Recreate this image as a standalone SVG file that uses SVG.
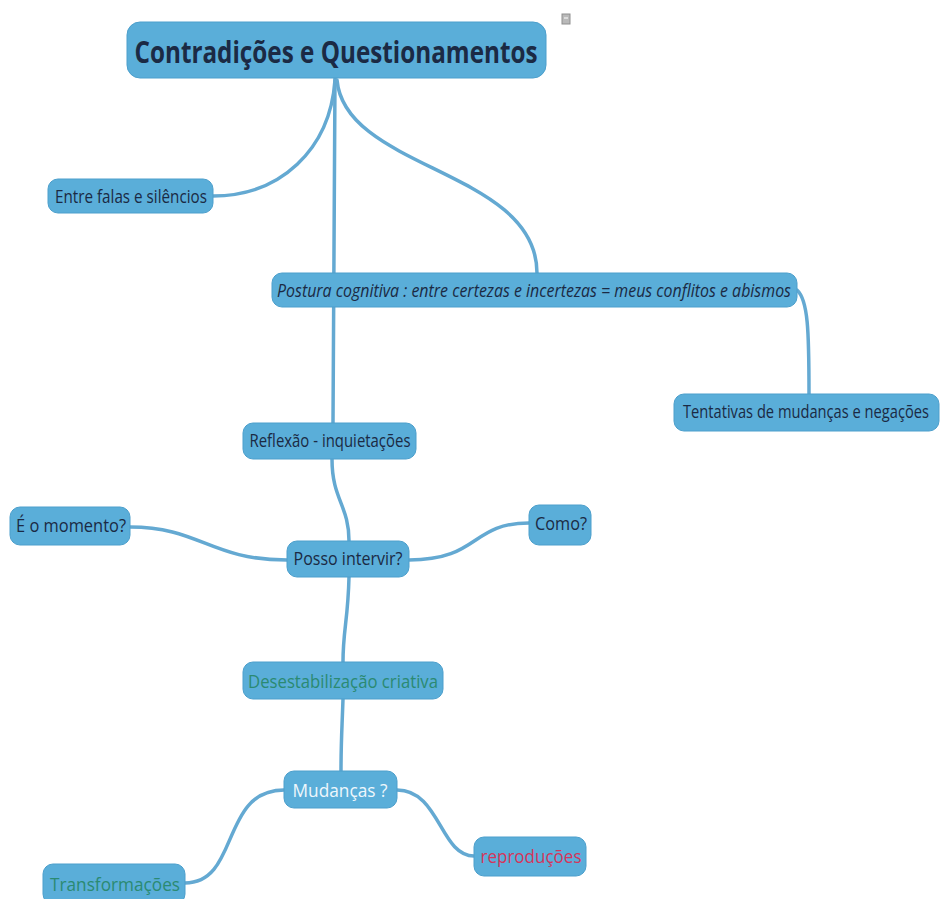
<svg xmlns="http://www.w3.org/2000/svg" width="944" height="899" viewBox="0 0 944 899">
  <style>
    .node rect { fill: #5aaed9; stroke: #4c9fcc; stroke-width: 1; }
    .node text { font-family: "Open Sans", "Liberation Sans", sans-serif; font-size: 19px; fill: #1b2a44; }
    .root text { font-size: 31px; font-weight: bold; }
    .links path { fill: none; stroke: #64a9d2; stroke-width: 3.5; stroke-linecap: round; }
    .teal { fill: #2b8a72 !important; }
    .light { fill: #eef7fc !important; }
    .red { fill: #d6345a !important; }
  </style>
  <rect width="944" height="899" fill="#ffffff"/>

  <g class="links">
    <!-- root to its children -->
    <path d="M335,78 L333,423"/>
    <path d="M335,80 C330,150 280,196 213,196"/>
    <path d="M337,80 C345,170 537,170 537,273"/>
    <!-- Postura to Tentativas -->
    <path d="M797,290 C808,300 809,330 809,394"/>
    <!-- Reflexão to Posso intervir -->
    <path d="M332,459 C332,500 349,505 349,541"/>
    <!-- Posso intervir to side questions -->
    <path d="M287,560 C210,560 200,527 130,527"/>
    <path d="M409,560 C480,560 470,523 529,523"/>
    <!-- chain down to Mudanças -->
    <path d="M349,577 C348,620 343,630 343,662"/>
    <path d="M343,699 C342,730 341,740 341,771"/>
    <!-- Mudanças to its children -->
    <path d="M284,790 C220,790 240,883 185,883"/>
    <path d="M397,790 C440,790 440,856 474,856"/>
  </g>

  <g id="root" class="node root">
    <rect x="127" y="22" width="419" height="56" rx="13"/>
    <text x="336" y="63" text-anchor="middle" textLength="403" lengthAdjust="spacingAndGlyphs">Contradições e Questionamentos</text>
  </g>
  <g id="note-icon">
    <rect x="562" y="14" width="8" height="10" fill="#b9b9b9" stroke="#8f8f8f" stroke-width="1"/>
    <line x1="564" y1="18" x2="568" y2="18" stroke="#ffffff" stroke-width="1"/>
  </g>

  <g id="entre-falas" class="node">
    <rect x="48" y="179" width="165" height="34" rx="10"/>
    <text x="131" y="202.5" text-anchor="middle" textLength="152" lengthAdjust="spacingAndGlyphs">Entre falas e silêncios</text>
  </g>

  <g id="postura" class="node">
    <rect x="272" y="273" width="525" height="34" rx="10"/>
    <text x="534" y="296.5" text-anchor="middle" font-style="italic" font-size="17" textLength="514" lengthAdjust="spacingAndGlyphs">Postura cognitiva : entre certezas e incertezas = meus conflitos e abismos</text>
  </g>

  <g id="tentativas" class="node">
    <rect x="674" y="394" width="265" height="37" rx="10"/>
    <!-- narrowed with a horizontal scale so the label stays inside the page -->
    <text transform="translate(806,418) scale(0.82,1)" x="0" y="0" text-anchor="middle" textLength="300" lengthAdjust="spacingAndGlyphs">Tentativas de mudanças e negações</text>
  </g>

  <g id="reflexao" class="node">
    <rect x="243" y="423" width="173" height="36" rx="10"/>
    <text x="330" y="447" text-anchor="middle" textLength="161" lengthAdjust="spacingAndGlyphs">Reflexão - inquietações</text>
  </g>

  <g id="e-o-momento" class="node">
    <rect x="10" y="507" width="120" height="38" rx="10"/>
    <text x="71" y="532" text-anchor="middle" textLength="110" lengthAdjust="spacingAndGlyphs">É o momento?</text>
  </g>

  <g id="posso-intervir" class="node">
    <rect x="287" y="541" width="122" height="36" rx="10"/>
    <text x="348" y="565" text-anchor="middle" textLength="109" lengthAdjust="spacingAndGlyphs">Posso intervir?</text>
  </g>

  <g id="como" class="node">
    <rect x="529" y="505" width="62" height="40" rx="10"/>
    <text x="561" y="530" text-anchor="middle" textLength="52" lengthAdjust="spacingAndGlyphs">Como?</text>
  </g>

  <g id="desestabilizacao" class="node">
    <rect x="243" y="662" width="200" height="37" rx="10"/>
    <text class="teal" x="343" y="688" text-anchor="middle" textLength="190" lengthAdjust="spacingAndGlyphs">Desestabilização criativa</text>
  </g>

  <g id="mudancas" class="node">
    <rect x="284" y="771" width="113" height="37" rx="10"/>
    <text class="light" x="340" y="797" text-anchor="middle" textLength="95" lengthAdjust="spacingAndGlyphs">Mudanças ?</text>
  </g>

  <g id="reproducoes" class="node">
    <rect x="474" y="837" width="112" height="39" rx="10"/>
    <text class="red" x="531" y="863" text-anchor="middle" textLength="101" lengthAdjust="spacingAndGlyphs">reproduções</text>
  </g>

  <g id="transformacoes" class="node">
    <rect x="43" y="864" width="142" height="40" rx="10"/>
    <text class="teal" x="115" y="891" text-anchor="middle" textLength="130" lengthAdjust="spacingAndGlyphs">Transformações</text>
  </g>
</svg>
